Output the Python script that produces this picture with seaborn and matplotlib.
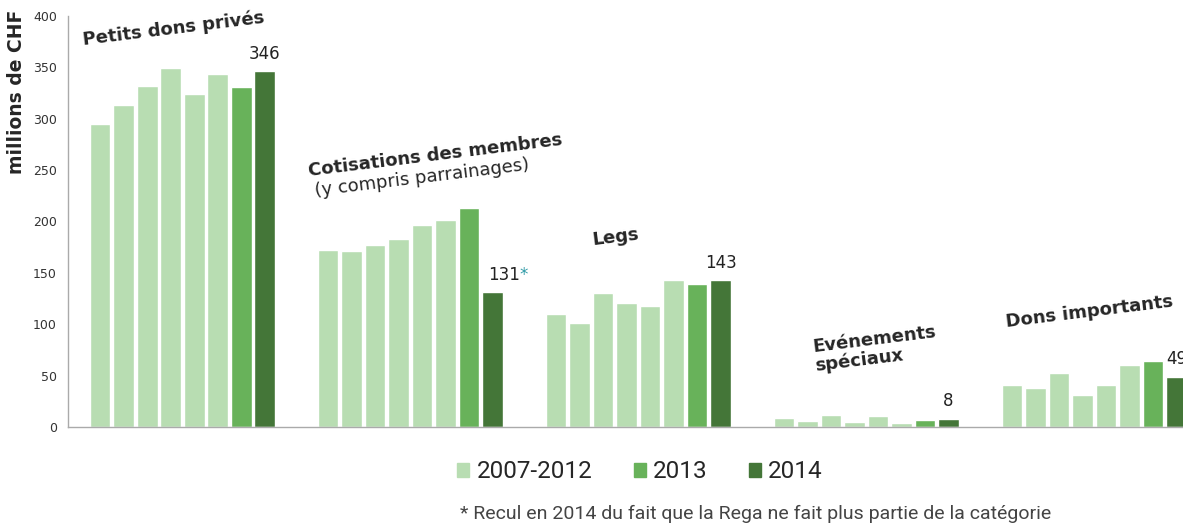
import matplotlib
matplotlib.use("Agg")
import matplotlib.pyplot as plt
import seaborn as sns
import pandas as pd
from matplotlib.patches import Patch

# categories and yearly values (millions CHF)
categories = ["Petits dons privés", "Cotisations des membres", "Legs",
              "Evénements spéciaux", "Dons importants"]
years = ["2007", "2008", "2009", "2010", "2011", "2012", "2013", "2014"]
petits_dons = [295, 313, 332, 349, 324, 344, 331, 346]
cotisations = [172, 171, 177, 183, 197, 201, 213, 131]
legs = [110, 101, 130, 121, 118, 143, 139, 143]
evenements = [9, 6, 12, 5, 11, 4, 7, 8]
dons_importants = [41, 38, 53, 31, 41, 60, 64, 49]
value_labels = ["346", "", "143", "8", "49"]

light, mid, dark = "#b8ddb2", "#68b25a", "#447638"
palette = [light] * 6 + [mid, dark]

rows = []
for cat, vals in zip(categories, [petits_dons, cotisations, legs, evenements, dons_importants]):
    for yr, v in zip(years, vals):
        rows.append({"categorie": cat, "annee": yr, "valeur": v})
df = pd.DataFrame(rows)

sns.set_style("white")
plt.rcParams['font.family'] = ['DejaVu Sans']
plt.rcParams['font.sans-serif'] = ['DejaVu Sans']
FONT = "DejaVu Sans"

fig = plt.figure(figsize=(11.83, 5.30), dpi=100)
ax = fig.add_axes([68 / 1183, 103 / 530, 1163 / 1183, 411 / 530])

sns.barplot(data=df, x="categorie", y="valeur", hue="annee", palette=palette,
            width=0.825, gap=0.12, legend=False, ax=ax, saturation=1)

ax.set_xlim(-0.502, 4.6)
ax.set_ylim(0, 400)
ax.set_yticks(range(0, 401, 50))
ax.tick_params(axis="y", labelsize=9, colors="#333333", length=0, pad=8)
for lbl in ax.get_yticklabels():
    lbl.set_family(FONT)
ax.set_xticks([])
ax.set_xlabel("")
ax.set_ylabel("millions de CHF", fontsize=13.5, fontweight="bold", family=FONT)
ax.yaxis.set_label_coords(-0.036, 0.815)
for side in ["top", "right"]:
    ax.spines[side].set_visible(False)
for side in ["left", "bottom"]:
    ax.spines[side].set_color("#aaaaaa")
    ax.spines[side].set_linewidth(1)

# value labels on 2014 bars
last = ax.containers[-1]
ax.bar_label(last, labels=value_labels, padding=6, fontsize=12, color="#222222", family=FONT)
b = last[1]
ax.annotate("131", xy=(b.get_x(), b.get_height()), xytext=(4, 6),
            textcoords="offset points", ha="left", va="bottom",
            fontsize=12, color="#222222", family=FONT)
ax.annotate("*", xy=(b.get_x(), b.get_height()), xytext=(27, 6),
            textcoords="offset points", ha="left", va="bottom",
            fontsize=12, color="#2e9aa6", family=FONT)

# category titles
title_kw = dict(fontsize=13, fontweight="bold", rotation=7, ha="center", va="center",
                rotation_mode="anchor", family=FONT)
ax.text(-0.04, 388, "Petits dons privés", **title_kw)
ax.text(1.11, 264, "Cotisations des membres", **title_kw)
ax.text(1.05, 242, "(y compris parrainages)", fontsize=13, rotation=7, family=FONT,
        ha="center", va="center", rotation_mode="anchor")
ax.text(1.90, 185, "Legs", **title_kw)
ax.text(3.04, 76, "Evénements\nspéciaux", linespacing=1.0, multialignment="left", **title_kw)
ax.text(3.98, 112, "Dons importants", **title_kw)

# legend
handles = [Patch(color=light, label="2007-2012"), Patch(color=mid, label="2013"),
           Patch(color=dark, label="2014")]
fig.legend(handles=handles, loc="center", bbox_to_anchor=(640 / 1183, 1 - 472 / 530),
           ncol=3, frameon=False, handlelength=0.5, handleheight=0.5,
           handletextpad=0.3, columnspacing=1.7,
           prop={"family": "Roboto", "size": 17.5})

fig.text(460 / 1183, 1 - 514 / 530,
         "* Recul en 2014 du fait que la Rega ne fait plus partie de la catégorie",
         fontsize=14, color="#444444", family="Roboto", va="center", ha="left")

fig.savefig("out.png", dpi=100)
